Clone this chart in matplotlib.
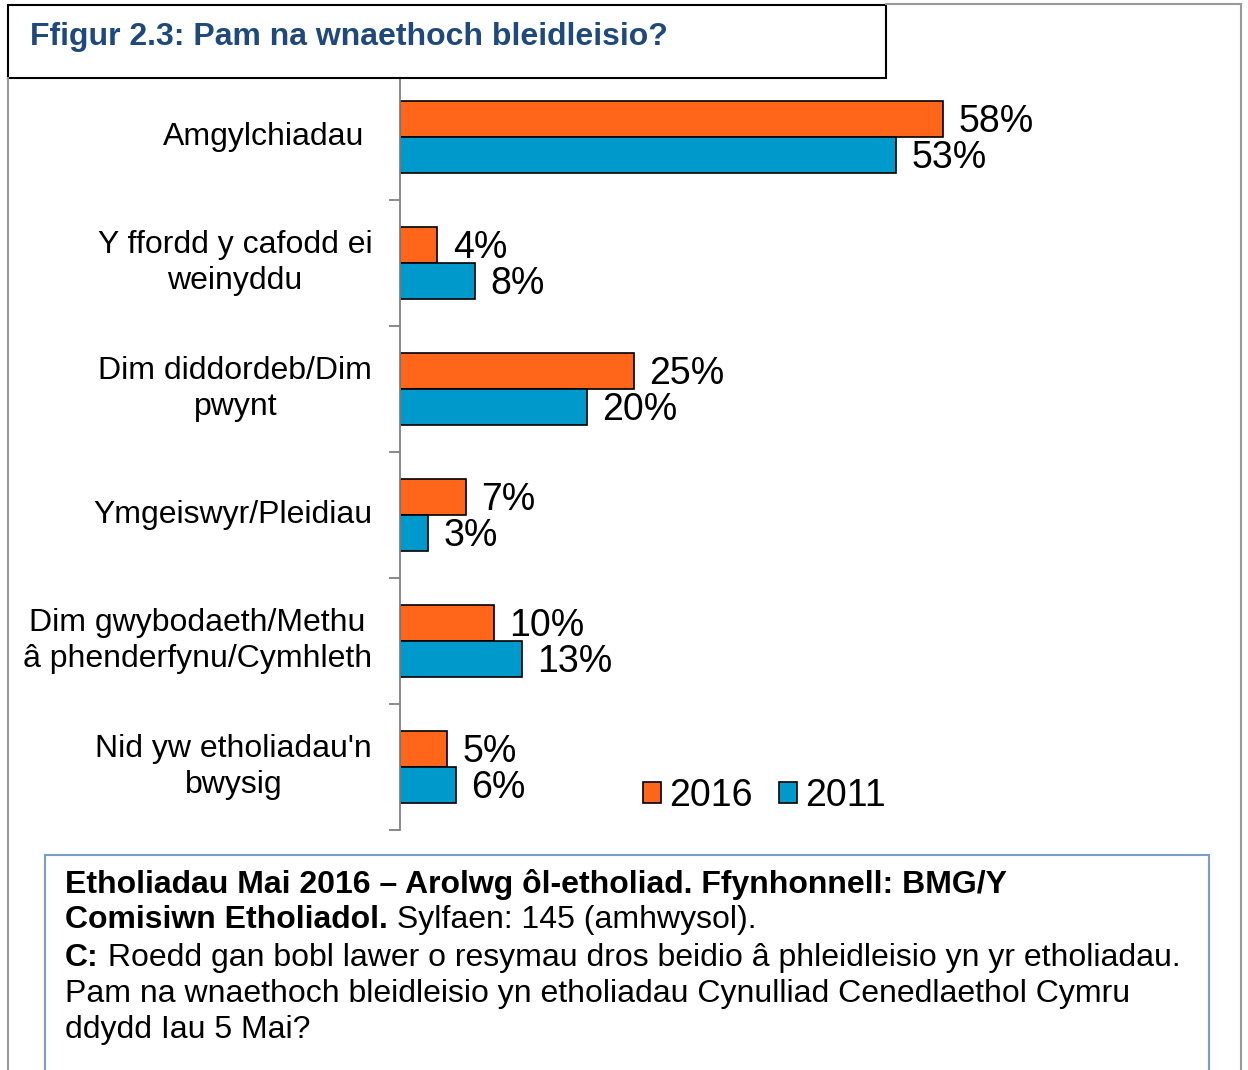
import numpy as np
import matplotlib.pyplot as plt
from matplotlib.patches import Rectangle

plt.rcParams['font.family'] = ['Liberation Sans', 'DejaVu Sans']

# data
categories = ['Amgylchiadau', 'Y ffordd y cafodd ei\nweinyddu', 'Dim diddordeb/Dim\npwynt',
              'Ymgeiswyr/Pleidiau', 'Dim gwybodaeth/Methu\nâ phenderfynu/Cymhleth',
              "Nid yw etholiadau'n\nbwysig"]
vals_2016 = [58, 4, 25, 7, 10, 5]
vals_2011 = [53, 8, 20, 3, 13, 6]
series_names = ['2016', '2011']

W, H = 1248, 1070
orange = '#FF661A'
blue = '#0099CC'

fig = plt.figure(figsize=(W / 100, H / 100), dpi=100)

# main bar axes
ax = fig.add_axes([400 / W, 1 - 830 / H, 840 / W, 756 / H])
y = np.arange(len(categories)) + 0.5
bh = 0.286
b1 = ax.barh(y - bh / 2, vals_2016, height=bh, color=orange, edgecolor='black', linewidth=1.2, label=series_names[0])
b2 = ax.barh(y + bh / 2, vals_2011, height=bh, color=blue, edgecolor='black', linewidth=1.2, label=series_names[1])
ax.set_ylim(len(categories), 0)
ax.set_xlim(0, 840 / 9.362)
ax.set_yticks(np.arange(len(categories) + 1))
ax.set_yticklabels([])
ax.set_xticks([])
for s in ['top', 'right', 'bottom']:
    ax.spines[s].set_visible(False)
ax.spines['left'].set_color('#808080')
ax.spines['left'].set_linewidth(1.3)
ax.tick_params(axis='y', direction='out', length=8, color='#808080', width=1.3)

for bars in (b1, b2):
    for r in bars:
        ax.annotate(f'{r.get_width():g}%', xy=(r.get_width(), r.get_y() + r.get_height() / 2),
                    xytext=(11, -2), textcoords='offset points', ha='left', va='center', fontsize=27)

for i, (yi, cat) in enumerate(zip(y, categories)):
    off = -26 if i == 0 else -20
    ax.annotate(cat, xy=(0, yi), xytext=(off, 0), textcoords='offset points',
                ha='right', va='center', multialignment='center', fontsize=23, linespacing=1.25)

ax.legend(loc='center', bbox_to_anchor=(764 / W, 1 - 796 / H), bbox_transform=fig.transFigure,
          ncol=2, frameon=False, fontsize=27, handlelength=0.5, handleheight=0.5,
          handletextpad=0.2, columnspacing=0.7)

# overlay for frames and text boxes
ov = fig.add_axes([0, 0, 1, 1], zorder=5)
ov.set_xlim(0, W)
ov.set_ylim(H, 0)
ov.axis('off')
ov.patch.set_alpha(0)

ov.plot([8, 8], [78, H], color='#999999', lw=1.5)
ov.plot([886, 1241], [4, 4], color='#999999', lw=1.5)
ov.plot([1241, 1241], [4, H], color='#999999', lw=1.5)

ov.add_patch(Rectangle((8, 5), 878, 73, facecolor='white', edgecolor='black', lw=1.5))
ov.text(30, 37, 'Ffigur 2.3: Pam na wnaethoch bleidleisio?', fontsize=23, fontweight='bold',
        color='#1F497D', ha='left', va='center')

ov.add_patch(Rectangle((45, 855), 1164, 230, facecolor='white', edgecolor='#7A9CCF', lw=1.5))
fs = 23
ov.text(65, 884, 'Etholiadau Mai 2016 – Arolwg ôl-etholiad. Ffynhonnell: BMG/Y',
        fontsize=fs, fontweight='bold', va='center', ha='left')
t2 = ov.text(65, 920, 'Comisiwn Etholiadol.', fontsize=fs, fontweight='bold', va='center', ha='left')
ov.annotate(' Sylfaen: 145 (amhwysol).', xy=(1, 0), xycoords=t2, fontsize=fs, va='bottom', ha='left')
t3 = ov.text(65, 958, 'C:', fontsize=fs, fontweight='bold', va='center', ha='left')
ov.annotate(' Roedd gan bobl lawer o resymau dros beidio â phleidleisio yn yr etholiadau.',
            xy=(1, 0), xycoords=t3, fontsize=fs, va='bottom', ha='left')
ov.text(65, 994, 'Pam na wnaethoch bleidleisio yn etholiadau Cynulliad Cenedlaethol Cymru',
        fontsize=fs, va='center', ha='left')
ov.text(65, 1030, 'ddydd Iau 5 Mai?', fontsize=fs, va='center', ha='left')

fig.savefig('out.png', dpi=100)
